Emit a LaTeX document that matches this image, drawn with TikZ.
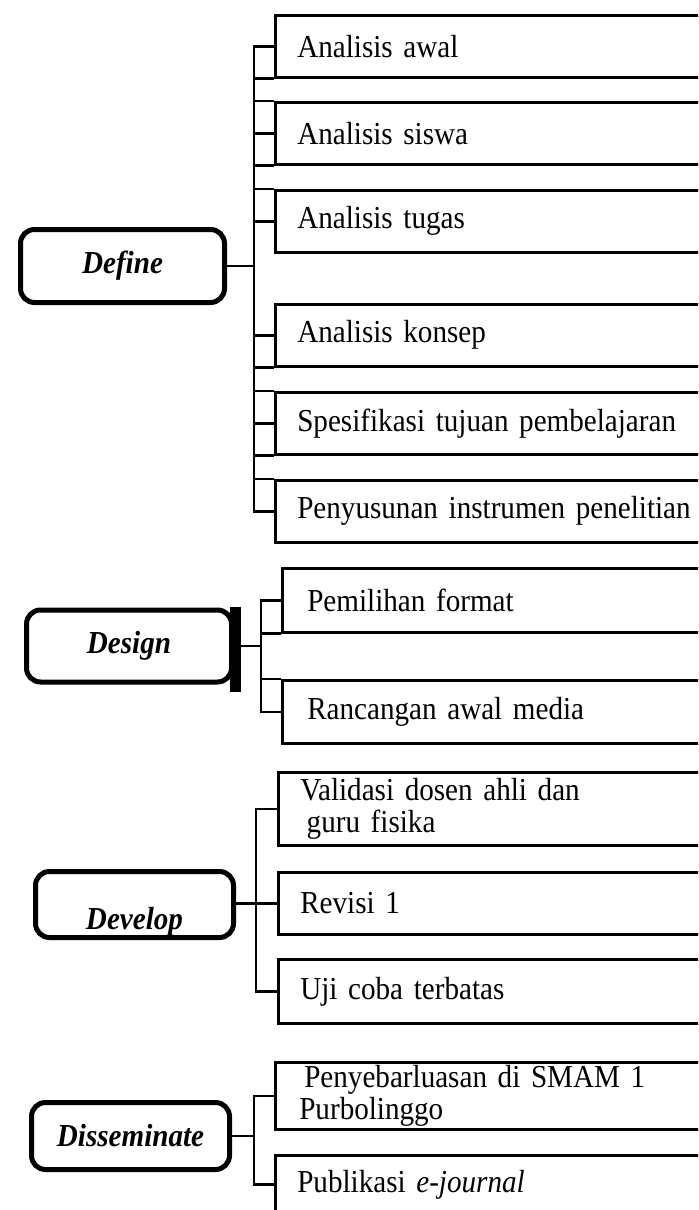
\documentclass[tikz,border=0pt]{standalone}
\usepackage{fontspec}
\setmainfont[FakeStretch=0.91, WordSpace=0.8]{Liberation Serif}
\begin{document}
\begin{tikzpicture}[
    x=0.5pt, y=-0.5pt,
    phase/.style={draw=black, line width=2.5pt, rounded corners=7pt, align=center, font=\fontsize{16}{16}\selectfont\bfseries\itshape},
    item/.style={draw=black, line width=1.3pt, anchor=north west, text width=205pt, align=left, inner xsep=11pt, inner ysep=0pt, font=\fontsize{16}{16}\selectfont},
    link/.style={black, line width=1.3pt}
]

% Frame
\clip (0,0) rectangle (698,1210);

% Define
\node[phase, minimum width=102pt, minimum height=36.5pt] (define) at (122.5,266) {Define};
\node[item, minimum height=31pt] (a1) at (274,14) {Analisis awal};
\node[item, minimum height=31pt] (a2) at (274,101) {Analisis siswa};
\node[item, minimum height=31pt] (a3) at (274,189) {Analisis tugas};
\node[item, minimum height=31pt] (a4) at (274,303) {Analisis konsep};
\node[item, minimum height=31pt] (a5) at (274,391) {Spesifikasi tujuan pembelajaran};
\node[item, minimum height=31pt] (a6) at (274,479) {Penyusunan instrumen penelitian};

\coordinate (tA) at (254,0);
\draw[link] (define.east) -- (define.east -| tA);
\draw[link] (a1.west) -- (a1.west -| tA) -- (a6.west -| tA) -- (a6.west);
\foreach \n in {a2,a3,a4,a5}
    \draw[link] (\n.west -| tA) -- (\n.west);
\foreach \u/\l in {a1/a2,a2/a3,a4/a5,a5/a6}{
    \draw[link] (\u.south west -| tA) -- (\u.south west);
    \draw[link] (\l.north west -| tA) -- (\l.north west);
}

% Design
\node[phase, minimum width=102.5pt, minimum height=36pt] (design) at (129,646) {Design};
\fill[black] (230,607) rectangle (241,692);
\node[item, minimum height=32pt, inner xsep=12.5pt] (b1) at (281,567) {Pemilihan format};
\node[item, minimum height=31.5pt, inner xsep=12.5pt] (b2) at (281,679) {Rancangan awal media};

\coordinate (tB) at (261,0);
\draw[link] (design.east) -- (design.east -| tB);
\draw[link] (b1.west) -- (b1.west -| tB) -- (b2.west -| tB) -- (b2.west);
\draw[link] (b1.south west -| tB) -- (b1.south west);
\draw[link] (b2.north west -| tB) -- (b2.north west);

% Develop
\node[phase, minimum width=99pt, minimum height=33pt, text height=25pt, text depth=0pt, inner ysep=0pt] (develop) at (134.5,904.5) {Develop};
\node[item, minimum height=36.5pt] (c1) at (277,771) {Validasi dosen ahli dan\\\hspace*{0.2em}guru fisika};
\node[item, minimum height=31pt] (c2) at (277,871) {Revisi 1};
\node[item, minimum height=32pt] (c3) at (277,958) {Uji coba terbatas};

\coordinate (tC) at (256,0);
\draw[link] (c2.west -| develop.east) -- (c2.west);
\draw[link] (c1.west) -- (c1.west -| tC) -- (c3.west -| tC) -- (c3.west);

% Disseminate
\node[phase, minimum width=99pt, minimum height=33.5pt] (dissem) at (130.5,1136) {Disseminate};
\node[item, minimum height=33.5pt, inner xsep=12pt] (d1) at (274,1061) {\hspace*{2.5pt}Penyebarluasan di SMAM 1\\Purbolinggo};
\node[item, minimum height=29pt] (d2) at (274,1154) {Publikasi \textit{e-journal}};

\coordinate (tD) at (254,0);
\draw[link] (dissem.east) -- (dissem.east -| tD);
\draw[link] (d1.west) -- (d1.west -| tD) -- (d2.west -| tD) -- (d2.west);

\end{tikzpicture}
\end{document}
